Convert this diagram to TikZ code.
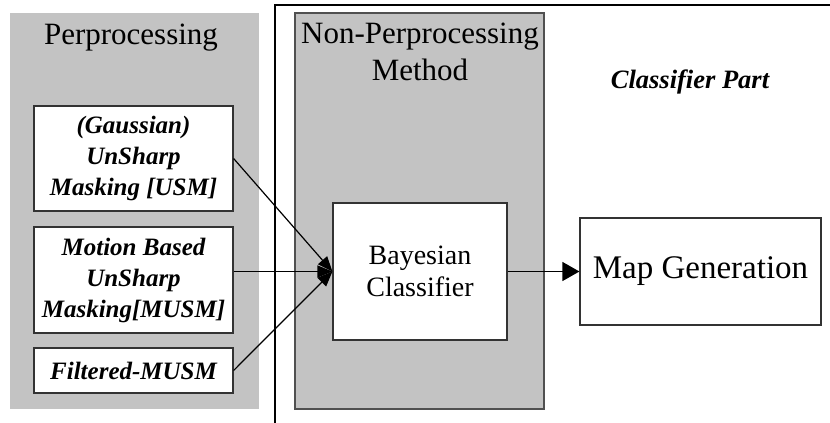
\documentclass[tikz,border=0pt]{standalone}
\usepackage{fontspec}
\setmainfont{Liberation Serif}
\usetikzlibrary{arrows.meta}
\definecolor{panelgray}{RGB}{195,195,195}
\definecolor{edgegray}{RGB}{80,80,80}
\begin{document}
\begin{tikzpicture}[x=1pt, y=-1pt, line width=1.2pt,
        panel/.style = {rectangle, fill=panelgray, minimum width=249pt, minimum height=396pt, inner sep=0pt},
        box/.style = {rectangle, draw=black!80, fill=white, inner sep=0pt, align=center},
        title/.style = {font=\fontsize{31}{37}\selectfont, align=center},
        prebox/.style = {box, minimum width=199pt, font=\fontsize{25}{31}\selectfont\bfseries\itshape},
        tip/.style = {-{Triangle[length=15pt, width=12pt]}}]
                \useasboundingbox (0,0) rectangle (830,423);
                \fill[white] (0,0) rectangle (830,423);
                \node [panel] (pre) at (134.5,211) {};
                \draw (275,423) -- (275,5) -- (830,5);
                \node [panel, draw=edgegray] (nonpre) at (419.5,211) {};
                \node [title] (pretitle) at (131,38) {Perprocessing};
                \node [title] (nontitle) at (420,52) {Non-Perprocessing\\Method};
                \node [font=\fontsize{26.5}{30}\selectfont\bfseries\itshape] (classpart) at (690,82) {Classifier Part};
                \node [prebox, minimum height=105pt] (usm) at (133.5,158.5) {(Gaussian)\\UnSharp\\Masking [USM]};
                \node [prebox, minimum height=106pt] (musm) at (133.5,280) {Motion Based\\UnSharp\\Masking[MUSM]};
                \node [prebox, minimum height=45pt] (fmusm) at (133.5,370.5) {Filtered-MUSM};
                \node [box, font=\fontsize{28}{32}\selectfont, minimum width=174pt, minimum height=137pt] (bayes) at (420,271.5) {Bayesian\\Classifier};
                \node [box, minimum width=241pt, minimum height=107pt, font=\fontsize{33}{38}\selectfont] (mapgen) at (700.5,271.5) {Map Generation};
                \draw [tip] (usm.east) -- (bayes.west);
                \draw [tip] (musm.east |- bayes.west) -- (bayes.west);
                \draw [tip] (fmusm.east) -- (bayes.west);
                \draw [-{Triangle[length=17pt, width=19pt]}] (bayes.east) -- (mapgen.west);
            \end{tikzpicture}
\end{document}
